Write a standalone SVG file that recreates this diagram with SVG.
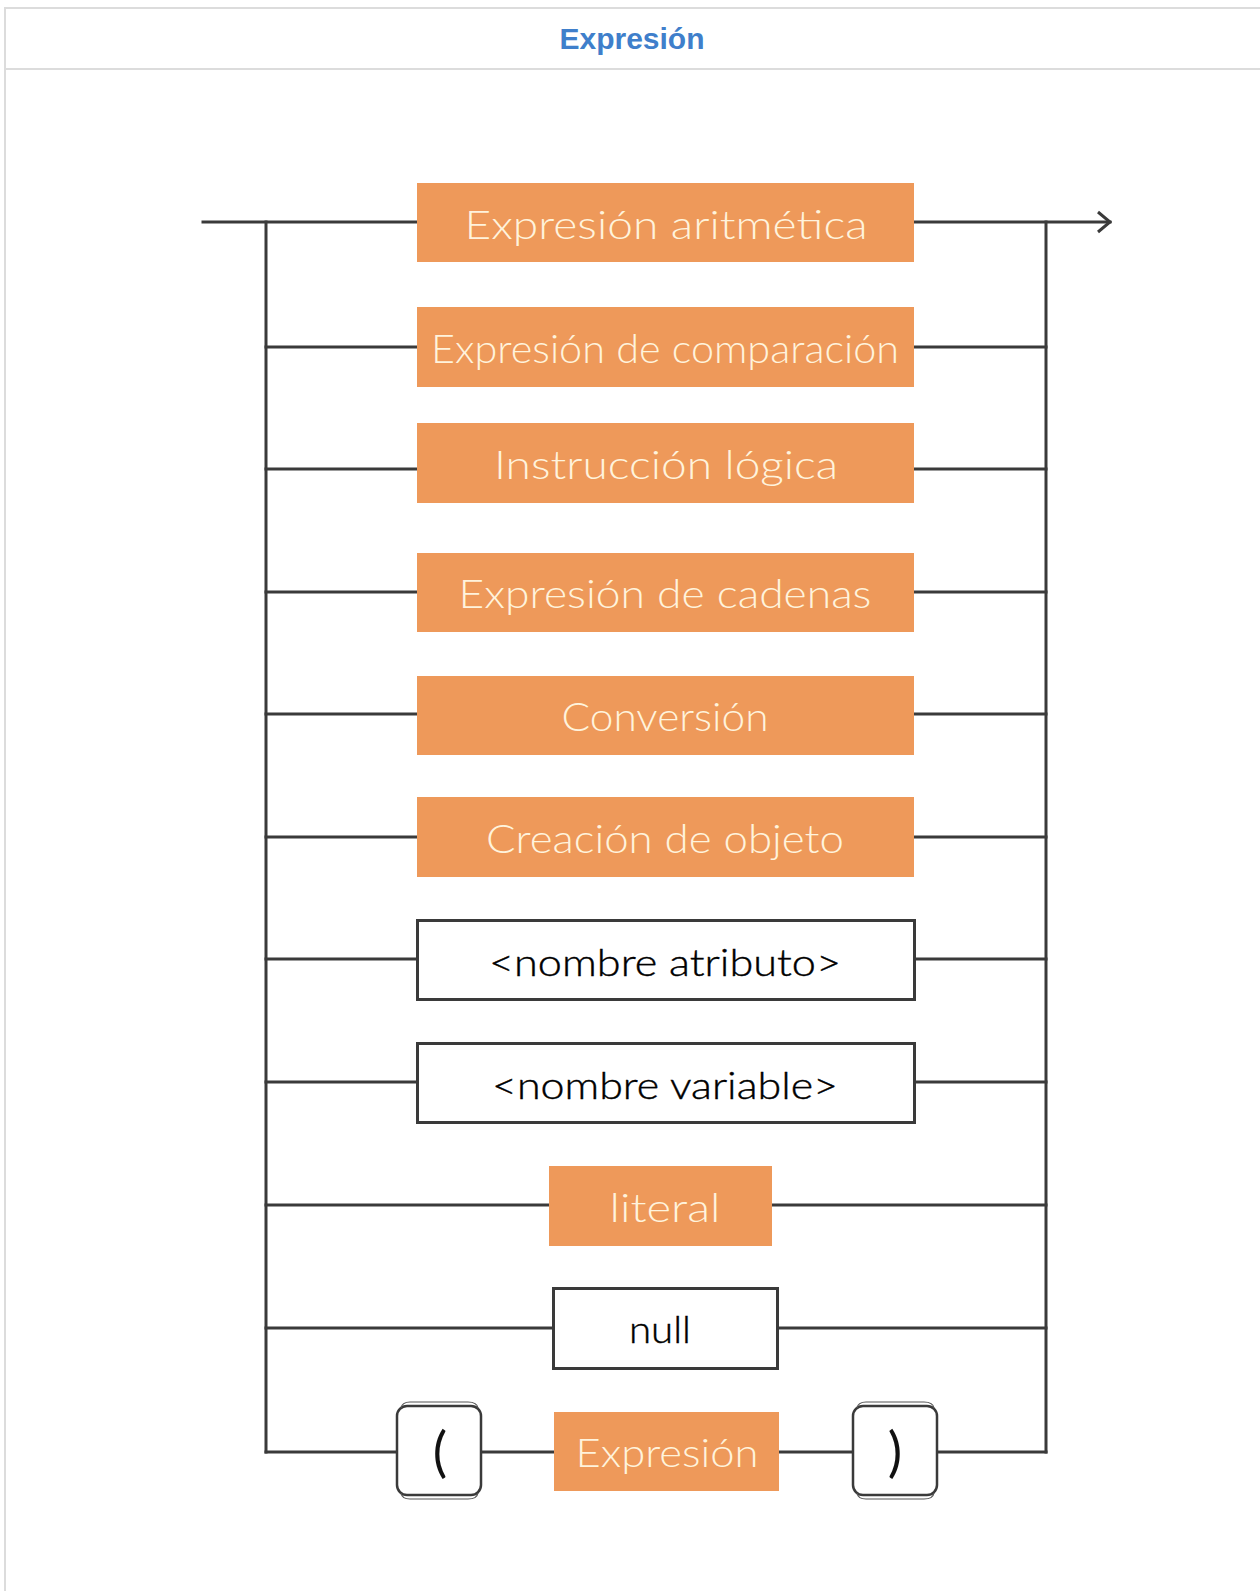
<svg xmlns="http://www.w3.org/2000/svg" width="1260" height="1591" viewBox="0 0 1260 1591">
<style>
.frame{fill:#fff;stroke:#dcdcdc;stroke-width:2}
.title{font-family:"Liberation Sans",Arial,sans-serif;font-weight:bold;font-size:30px;fill:#3f7fcb}
.ln{stroke:#3a3a3a;stroke-width:3;fill:none;stroke-linecap:square}
.or{fill:#ee995a}
.wb{fill:#fff;stroke:#3a3a3a;stroke-width:3}
.ot{font-family:Lato,"Open Sans",sans-serif;font-weight:300;font-size:40px;fill:#fff3dc;text-anchor:middle}
.bt{font-family:Lato,"Open Sans",sans-serif;font-weight:300;font-size:38px;fill:#000;stroke:#000;stroke-width:0.4;text-anchor:middle}
.pb{fill:#fff;stroke:#3a3a3a;stroke-width:2.5}
.pb2{fill:none;stroke:#555;stroke-width:1.2}
.pt{font-family:Lato,"Open Sans",sans-serif;font-weight:400;font-size:54px;fill:#111;text-anchor:middle}
</style>
<defs>
<marker id="arr" viewBox="0 0 16 24" refX="14" refY="12" markerWidth="16" markerHeight="24" markerUnits="userSpaceOnUse" orient="auto">
<path d="M2,2 L14,12 L2,22" fill="none" stroke="#3a3a3a" stroke-width="3"/>
</marker>
</defs>
<rect width="1260" height="1591" fill="#fff"/>
<rect class="frame" x="5" y="8" width="1270" height="1600"/>
<line x1="5" y1="69" x2="1260" y2="69" stroke="#dcdcdc" stroke-width="2"/>
<text class="title" x="632" y="49" text-anchor="middle">Expresión</text>

<g id="connectors">
<line class="ln" x1="203" y1="222" x2="417" y2="222"/>
<line class="ln" x1="914" y1="222" x2="1110" y2="222" marker-end="url(#arr)"/>
<line class="ln" x1="266" y1="222" x2="266" y2="1452"/>
<line class="ln" x1="1046" y1="222" x2="1046" y2="1452"/>
<line class="ln" x1="266" y1="347" x2="417" y2="347"/><line class="ln" x1="914" y1="347" x2="1046" y2="347"/>
<line class="ln" x1="266" y1="469" x2="417" y2="469"/><line class="ln" x1="914" y1="469" x2="1046" y2="469"/>
<line class="ln" x1="266" y1="592" x2="417" y2="592"/><line class="ln" x1="914" y1="592" x2="1046" y2="592"/>
<line class="ln" x1="266" y1="714" x2="417" y2="714"/><line class="ln" x1="914" y1="714" x2="1046" y2="714"/>
<line class="ln" x1="266" y1="837" x2="417" y2="837"/><line class="ln" x1="914" y1="837" x2="1046" y2="837"/>
<line class="ln" x1="266" y1="959" x2="417" y2="959"/><line class="ln" x1="915" y1="959" x2="1046" y2="959"/>
<line class="ln" x1="266" y1="1082" x2="417" y2="1082"/><line class="ln" x1="915" y1="1082" x2="1046" y2="1082"/>
<line class="ln" x1="266" y1="1205" x2="549" y2="1205"/><line class="ln" x1="772" y1="1205" x2="1046" y2="1205"/>
<line class="ln" x1="266" y1="1328" x2="553" y2="1328"/><line class="ln" x1="778" y1="1328" x2="1046" y2="1328"/>
<line class="ln" x1="266" y1="1452" x2="396" y2="1452"/><line class="ln" x1="482" y1="1452" x2="554" y2="1452"/>
<line class="ln" x1="779" y1="1452" x2="852" y2="1452"/><line class="ln" x1="937" y1="1452" x2="1046" y2="1452"/>
</g>

<g id="n1"><rect class="or" x="417" y="183" width="497" height="79"/><text class="ot" x="666" y="239" textLength="403" lengthAdjust="spacingAndGlyphs">Expresión aritmética</text></g>
<g id="n2"><rect class="or" x="417" y="307" width="497" height="80"/><text class="ot" x="665" y="363" textLength="468" lengthAdjust="spacingAndGlyphs">Expresión de comparación</text></g>
<g id="n3"><rect class="or" x="417" y="423" width="497" height="80"/><text class="ot" x="666" y="479" textLength="344" lengthAdjust="spacingAndGlyphs">Instrucción lógica</text></g>
<g id="n4"><rect class="or" x="417" y="553" width="497" height="79"/><text class="ot" x="665" y="608" textLength="413" lengthAdjust="spacingAndGlyphs">Expresión de cadenas</text></g>
<g id="n5"><rect class="or" x="417" y="676" width="497" height="79"/><text class="ot" x="665" y="731" textLength="207" lengthAdjust="spacingAndGlyphs">Conversión</text></g>
<g id="n6"><rect class="or" x="417" y="797" width="497" height="80"/><text class="ot" x="665" y="853" textLength="358" lengthAdjust="spacingAndGlyphs">Creación de objeto</text></g>
<g id="n7"><rect class="wb" x="417.5" y="920.5" width="497" height="79"/><text class="bt" x="665" y="976" textLength="352" lengthAdjust="spacingAndGlyphs">&lt;nombre atributo&gt;</text></g>
<g id="n8"><rect class="wb" x="417.5" y="1043.5" width="497" height="79"/><text class="bt" x="665" y="1099" textLength="346" lengthAdjust="spacingAndGlyphs">&lt;nombre variable&gt;</text></g>
<g id="n9"><rect class="or" x="549" y="1166" width="223" height="80"/><text class="ot" x="665" y="1222" textLength="111" lengthAdjust="spacingAndGlyphs">literal</text></g>
<g id="n10"><rect class="wb" x="553.5" y="1288.5" width="224" height="80"/><text class="bt" x="660" y="1343" textLength="62" lengthAdjust="spacingAndGlyphs">null</text></g>
<g id="n11"><rect class="pb" x="397" y="1406" width="84" height="89" rx="10"/><path class="pb2" d="M401,1408 Q402,1402 410,1402 L468,1402 Q477,1402 478,1408 M401,1493 Q402,1499 410,1499 L468,1499 Q477,1499 478,1493"/><text class="pt" x="440" y="1471">(</text></g>
<g id="n12"><rect class="or" x="554" y="1412" width="225" height="79"/><text class="ot" x="667" y="1467" textLength="183" lengthAdjust="spacingAndGlyphs">Expresión</text></g>
<g id="n13"><rect class="pb" x="853" y="1406" width="84" height="89" rx="10"/><path class="pb2" d="M857,1408 Q858,1402 866,1402 L924,1402 Q933,1402 934,1408 M857,1493 Q858,1499 866,1499 L924,1499 Q933,1499 934,1493"/><text class="pt" x="895" y="1471">)</text></g>
</svg>
